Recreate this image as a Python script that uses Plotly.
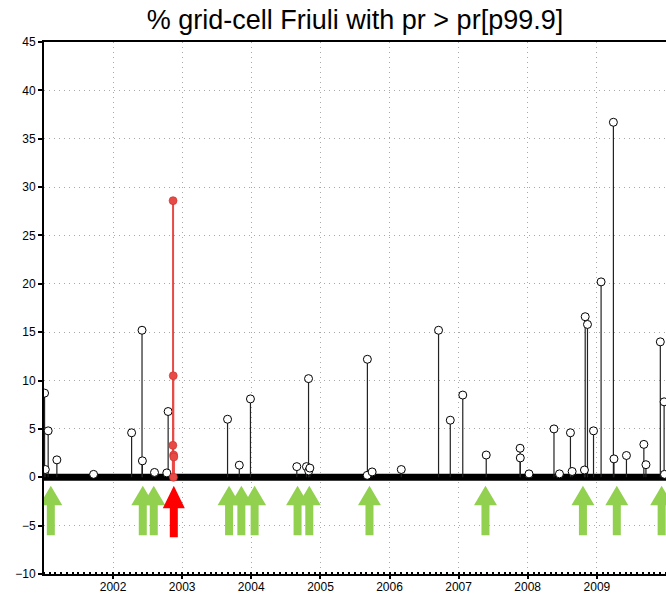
import plotly.graph_objects as go

# ---- data ----
event_dates = [
    "2001-01-04", "2001-01-08", "2001-01-23", "2001-03-10", "2001-09-20",
    "2002-04-09", "2002-06-03", "2002-06-05", "2002-08-08", "2002-10-12", "2002-10-19",
    "2003-08-29", "2003-10-30", "2003-12-28",
    "2004-08-29", "2004-10-19", "2004-10-30", "2004-10-31", "2004-11-06",
    "2005-09-05", "2005-09-06", "2005-10-01",
    "2006-03-04", "2006-09-17", "2006-11-18",
    "2007-01-23", "2007-05-27", "2007-11-22", "2007-11-23",
    "2008-01-08", "2008-05-19", "2008-06-17", "2008-08-14", "2008-08-23",
    "2008-10-27", "2008-10-31", "2008-11-12", "2008-12-14",
    "2009-01-23", "2009-03-29", "2009-04-01", "2009-06-06", "2009-09-06",
    "2009-09-17", "2009-12-02", "2009-12-22", "2009-12-24",
]
event_values = [
    8.7, 0.8, 4.8, 1.8, 0.3,
    4.6, 15.2, 1.7, 0.5, 0.45, 6.8,
    6.0, 1.25, 8.1,
    1.1, 1.1, 10.2, 0.65, 0.95,
    0.2, 12.2, 0.55,
    0.8, 15.2, 5.9,
    8.5, 2.3, 3.0, 2.0,
    0.35, 5.0, 0.35, 4.6, 0.6,
    0.75, 16.6, 15.8, 4.8,
    20.2, 36.7, 1.9, 2.25, 3.4,
    1.3, 14.0, 7.8, 0.3,
]

red_dates = ["2002-11-13", "2002-11-14", "2002-11-15", "2002-11-16", "2002-11-17", "2002-11-18"]
red_values = [3.3, 28.6, 10.5, 0.0, 2.3, 2.1]

green_arrow_dates = [
    "2001-02-06", "2002-06-07", "2002-08-04", "2003-09-06", "2003-11-10",
    "2004-01-19", "2004-09-02", "2004-11-03", "2005-09-17", "2007-05-23",
    "2008-10-19", "2009-04-16", "2009-12-09",
]
red_arrow_dates = ["2002-11-18"]

period = ["2001-01-01", "2010-01-01"]
year_ticks = ["2002-01-01", "2003-01-01", "2004-01-01", "2005-01-01",
              "2006-01-01", "2007-01-01", "2008-01-01", "2009-01-01"]
year_labels = ["2002", "2003", "2004", "2005", "2006", "2007", "2008", "2009"]
y_ticks = [-10, -5, 0, 5, 10, 15, 20, 25, 30, 35, 40, 45]

title_text = "% grid-cell Friuli with pr > pr[p99.9]"

# ---- styles ----
GREEN = "#92d050"
RED_ARROW = "#ff0000"
RED_LINE = "#e84a45"
GRID = "#a8a8a8"
GRID_DASH = "1px,4px"


def stems(dates, values):
    xs, ys = [], []
    for d, v in zip(dates, values):
        xs += [d, d, None]
        ys += [0, v, None]
    return xs, ys


fig = go.Figure()

# thick baseline formed by the zero-valued days
fig.add_trace(go.Scatter(x=period, y=[0, 0], mode="lines",
                         line=dict(color="black", width=7),
                         hoverinfo="skip", showlegend=False))

sx, sy = stems(event_dates, event_values)
fig.add_trace(go.Scatter(x=sx, y=sy, mode="lines",
                         line=dict(color="#222222", width=1.2),
                         hoverinfo="skip", showlegend=False))
fig.add_trace(go.Scatter(x=event_dates, y=event_values, mode="markers",
                         marker=dict(symbol="circle", size=8, color="white",
                                     line=dict(color="black", width=1)),
                         showlegend=False))

rx, ry = stems(red_dates, red_values)
fig.add_trace(go.Scatter(x=rx, y=ry, mode="lines",
                         line=dict(color=RED_LINE, width=2),
                         hoverinfo="skip", showlegend=False))
fig.add_trace(go.Scatter(x=red_dates, y=red_values, mode="markers",
                         marker=dict(symbol="circle", size=8, color=RED_LINE,
                                     line=dict(color="#c83030", width=0.6)),
                         showlegend=False))


def arrow_path(tip, head_base, bottom, half_head, half_shaft):
    return (f"M {-half_shaft},{bottom} L {half_shaft},{bottom} L {half_shaft},{head_base} "
            f"L {half_head},{head_base} L 0,{tip} L {-half_head},{head_base} "
            f"L {-half_shaft},{head_base} Z")


shapes = []
for d in green_arrow_dates:
    shapes.append(dict(type="path", xref="x", yref="y", xsizemode="pixel",
                       ysizemode="pixel", xanchor=d, yanchor=0,
                       path=arrow_path(-8.5, -28, -58, 11.5, 4),
                       fillcolor=GREEN, line=dict(width=0)))
for d in red_arrow_dates:
    shapes.append(dict(type="path", xref="x", yref="y", xsizemode="pixel",
                       ysizemode="pixel", xanchor=d, yanchor=0,
                       path=arrow_path(-8.5, -31, -60, 11, 4),
                       fillcolor=RED_ARROW, line=dict(width=0)))

fig.update_layout(
    width=666, height=594,
    margin=dict(l=44, r=0, t=42, b=20, autoexpand=False),
    paper_bgcolor="white", plot_bgcolor="white",
    shapes=shapes,
    title=dict(text=title_text, x=355 / 666, xanchor="center",
               y=1 - 20 / 594, yanchor="middle", yref="container",
               font=dict(family="Liberation Sans", size=27, color="black")),
    font=dict(family="Liberation Sans", size=12, color="black"),
    showlegend=False,
)

fig.update_xaxes(
    type="date", range=period, automargin=False,
    tickmode="array", tickvals=year_ticks, ticktext=year_labels,
    ticks="outside", ticklen=3, tickwidth=1.5, tickcolor="black",
    ticklabelstandoff=-2,
    showline=True, linecolor="black", linewidth=2, mirror=True,
    showgrid=True, gridcolor=GRID, griddash=GRID_DASH, gridwidth=1,
    minor=dict(dtick="M1", tick0="2001-01-01", ticks="inside", ticklen=2,
               tickcolor="black", showgrid=False),
    tickfont=dict(family="Liberation Sans", size=12, color="black"),
    zeroline=False,
)
fig.update_yaxes(
    range=[-10, 45], automargin=False, tickmode="array", tickvals=y_ticks,
    ticks="outside", ticklen=4, tickwidth=1.5, tickcolor="black",
    showline=True, linecolor="black", linewidth=2, mirror=True,
    showgrid=True, gridcolor=GRID, griddash=GRID_DASH, gridwidth=1,
    zeroline=False,
    tickfont=dict(family="Liberation Sans", size=12, color="black"),
)

fig.write_html("out.html")
